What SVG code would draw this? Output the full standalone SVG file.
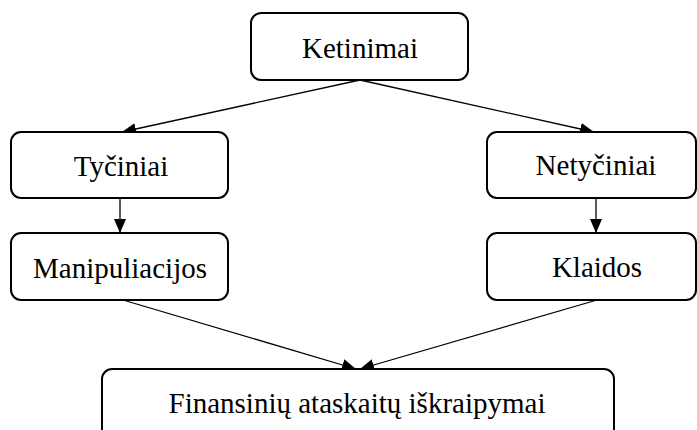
<svg xmlns="http://www.w3.org/2000/svg" width="697" height="430" viewBox="0 0 697 430">
  <style>
    .box { fill: #ffffff; stroke: #000000; stroke-width: 2; }
    .label { font-family: "Liberation Serif", "Times New Roman", serif; font-size: 29px; fill: #000000; text-anchor: middle; }
    .edge { stroke: #000000; stroke-width: 1.3; fill: none; marker-end: url(#arrow); }
  </style>
  <defs>
    <marker id="arrow" markerUnits="userSpaceOnUse" markerWidth="14" markerHeight="12" refX="14" refY="6" orient="auto">
      <path d="M0,0 L14,6 L0,12 Z" fill="#000000"/>
    </marker>
  </defs>

  <rect x="0" y="0" width="697" height="430" fill="#ffffff"/>

  <g id="connectors">
    <line class="edge" x1="360" y1="80" x2="122" y2="132"/>
    <line class="edge" x1="360" y1="80" x2="594" y2="132"/>
    <line class="edge" x1="120" y1="198" x2="120" y2="233"/>
    <line class="edge" x1="596" y1="198" x2="596" y2="233"/>
    <line class="edge" x1="123" y1="300" x2="356" y2="369"/>
    <line class="edge" x1="597" y1="300" x2="360" y2="369"/>
  </g>

  <g id="node-ketinimai">
    <rect class="box" x="251" y="13" width="217" height="67" rx="10"/>
    <text class="label" x="360" y="58">Ketinimai</text>
  </g>
  <g id="node-tyciniai">
    <rect class="box" x="11" y="132" width="217" height="66" rx="10"/>
    <text class="label" x="121" y="176">Tyčiniai</text>
  </g>
  <g id="node-netyciniai">
    <rect class="box" x="487" y="132" width="209" height="66" rx="10"/>
    <text class="label" x="596" y="175">Netyčiniai</text>
  </g>
  <g id="node-manipuliacijos">
    <rect class="box" x="11" y="233" width="217" height="67" rx="10"/>
    <text class="label" x="120" y="278">Manipuliacijos</text>
  </g>
  <g id="node-klaidos">
    <rect class="box" x="487" y="233" width="209" height="67" rx="10"/>
    <text class="label" x="597" y="277">Klaidos</text>
  </g>
  <g id="node-iskraipymai">
    <rect class="box" x="102" y="369" width="512" height="70" rx="10"/>
    <text class="label" x="357" y="413">Finansinių ataskaitų iškraipymai</text>
  </g>
</svg>
